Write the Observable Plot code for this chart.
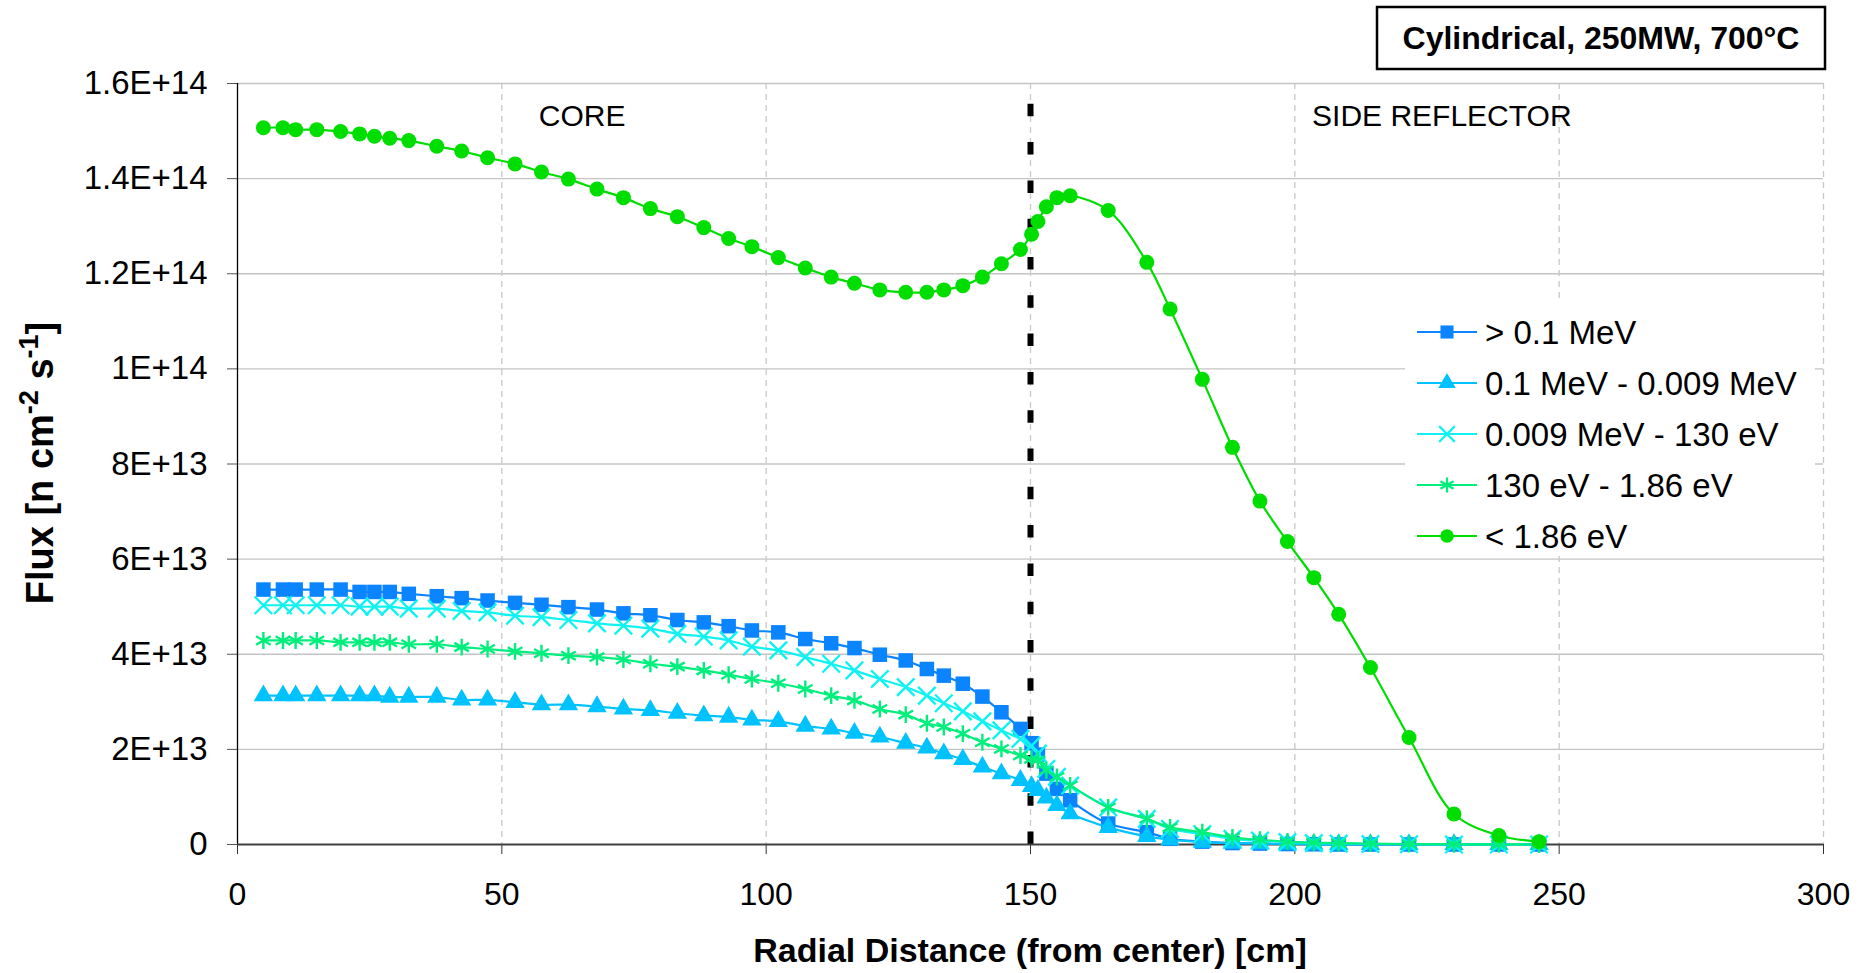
<!DOCTYPE html>
<html>
<head>
<meta charset="utf-8">
<script src="https://cdn.jsdelivr.net/npm/d3@7"></script>
<script src="https://cdn.jsdelivr.net/npm/@observablehq/plot@0.6"></script>
<style>
  html, body { margin: 0; padding: 0; background: #fff; }
  #chart { width: 1874px; height: 973px; }
</style>
</head>
<body>
<div id="chart"></div>
<script>
// ---------- DATA ----------
// radial distance from centre (cm)
const radialDistance = [
  4.9, 8.6, 11.0, 15.0, 19.5, 23.1, 25.9, 28.8, 32.4, 37.7, 42.4, 47.3, 52.5, 57.5, 62.6, 68.0,
  73.0, 78.1, 83.2, 88.2, 92.9, 97.3, 102.3, 107.4, 112.3, 116.7, 121.5, 126.4, 130.4, 133.6,
  137.2, 140.9, 144.5, 148.1, 150.2, 151.4, 153.0, 155.0, 157.5, 164.7, 172.0, 176.4, 182.5,
  188.2, 193.4, 198.6, 203.6, 208.3, 214.3, 221.6, 230.1, 238.6, 246.2
];
// flux values in units of 1E+13 n cm^-2 s^-1
const fluxAbove01MeV = [
  5.36, 5.36, 5.36, 5.36, 5.36, 5.31, 5.31, 5.31, 5.27, 5.22, 5.18, 5.13, 5.08, 5.04, 4.99, 4.94,
  4.86, 4.82, 4.72, 4.67, 4.59, 4.50, 4.46, 4.32, 4.23, 4.13, 3.99, 3.87, 3.69, 3.55,
  3.38, 3.11, 2.78, 2.43, 2.13, 1.89, 1.49, 1.17, 0.93, 0.44, 0.26, 0.12, 0.06,
  0.03, 0.02, 0.01, 0.005, 0, 0, 0, 0, 0, 0
];
const flux01to0009MeV = [
  3.13, 3.13, 3.13, 3.13, 3.13, 3.13, 3.13, 3.10, 3.10, 3.10, 3.04, 3.04, 2.99, 2.94, 2.94, 2.90,
  2.85, 2.82, 2.76, 2.71, 2.68, 2.62, 2.59, 2.49, 2.43, 2.34, 2.26, 2.13, 2.03, 1.91,
  1.79, 1.63, 1.49, 1.35, 1.22, 1.14, 0.98, 0.82, 0.65, 0.36, 0.17, 0.10, 0.05,
  0.03, 0.02, 0.01, 0.005, 0, 0, 0, 0, 0, 0
];
const flux0009MeVto130eV = [
  5.03, 5.03, 5.03, 5.03, 5.03, 5.00, 5.00, 5.00, 4.96, 4.96, 4.91, 4.88, 4.81, 4.78, 4.72, 4.65,
  4.60, 4.54, 4.43, 4.37, 4.29, 4.16, 4.08, 3.94, 3.80, 3.66, 3.48, 3.31, 3.13, 2.97,
  2.80, 2.59, 2.40, 2.22, 2.08, 1.91, 1.59, 1.42, 1.24, 0.78, 0.54, 0.33, 0.22,
  0.12, 0.08, 0.05, 0.03, 0.02, 0.01, 0.005, 0, 0, 0
];
const flux130to186eV = [
  4.29, 4.29, 4.29, 4.29, 4.25, 4.25, 4.25, 4.25, 4.21, 4.21, 4.15, 4.11, 4.06, 4.02, 3.97, 3.94,
  3.89, 3.80, 3.74, 3.66, 3.57, 3.48, 3.39, 3.27, 3.13, 3.03, 2.85, 2.73, 2.55, 2.47,
  2.33, 2.15, 2.01, 1.87, 1.80, 1.77, 1.56, 1.42, 1.24, 0.78, 0.54, 0.36, 0.26,
  0.15, 0.10, 0.06, 0.04, 0.03, 0.02, 0.01, 0.005, 0.002, 0
];
const fluxBelow186eV = [
  15.07, 15.07, 15.03, 15.03, 14.99, 14.94, 14.89, 14.85, 14.80, 14.68, 14.58, 14.44, 14.31, 14.14, 13.99, 13.78,
  13.60, 13.37, 13.20, 12.97, 12.74, 12.57, 12.34, 12.12, 11.93, 11.80, 11.66, 11.61, 11.61, 11.66,
  11.75, 11.93, 12.21, 12.51, 12.83, 13.10, 13.41, 13.60, 13.64, 13.33, 12.24, 11.26, 9.78,
  8.35, 7.22, 6.37, 5.61, 4.84, 3.72, 2.25, 0.64, 0.19, 0.06
];
const fluxUnit = 1e13;

const seriesNames = ["> 0.1 MeV", "0.1 MeV - 0.009 MeV", "0.009 MeV - 130 eV", "130 eV - 1.86 eV", "< 1.86 eV"];
const seriesValues = [fluxAbove01MeV, flux01to0009MeV, flux0009MeVto130eV, flux130to186eV, fluxBelow186eV];
const seriesColors = ["#0a84ff", "#00c2ff", "#10f2f2", "#00ef7c", "#00dd00"];
const seriesSymbols = ["square", "triangle", "times", "asterisk", "circle"];
const seriesRadius = [8.2, 7.2, 8.0, 8.0, 7.5];

const xTicks = [0, 50, 100, 150, 200, 250, 300];
const yTicks = [0, 2e13, 4e13, 6e13, 8e13, 1e14, 1.2e14, 1.4e14, 1.6e14];
const yTickLabels = ["0", "2E+13", "4E+13", "6E+13", "8E+13", "1E+14", "1.2E+14", "1.4E+14", "1.6E+14"];

const coreBoundary = 150;          // cm, core / side reflector boundary
const boundaryTop = 1.558e14;      // top of the dashed boundary line
const regionLabels = [
  {label: "CORE", x: 65.2, y: 1.53e14},
  {label: "SIDE REFLECTOR", x: 227.8, y: 1.53e14}
];
const chartTitle = "Cylindrical, 250MW, 700°C";
const xTitle = "Radial Distance (from center) [cm]";

// ---------- BUILD ----------
const rows = seriesValues.flatMap((vals, s) =>
  vals.map((v, i) => ({series: seriesNames[s], r: radialDistance[i], flux: v * fluxUnit})));
const yLabelOf = new Map(yTicks.map((v, i) => [v, yTickLabels[i]]));
const FONT = "'Liberation Sans', Arial, Helvetica, sans-serif";

const seriesMarks = seriesNames.flatMap((name, s) => {
  const data = rows.filter(d => d.series === name);
  const sym = seriesSymbols[s];
  const filled = sym === "square" || sym === "triangle" || sym === "circle";
  return [
    Plot.line(data, {x: "r", y: "flux", stroke: seriesColors[s], strokeWidth: 2.2, curve: "catmull-rom"}),
    Plot.dot(data, filled
      ? {x: "r", y: "flux", symbol: sym, r: seriesRadius[s], fill: seriesColors[s], stroke: "none"}
      : {x: "r", y: "flux", symbol: sym, r: seriesRadius[s], fill: "none", stroke: seriesColors[s], strokeWidth: 2.4})
  ];
});

const chart = Plot.plot({
  width: 1874,
  height: 973,
  marginLeft: 237,
  marginRight: 51,
  marginTop: 83,
  marginBottom: 129,
  style: {fontFamily: FONT, background: "#fff", color: "#000"},
  x: {domain: [0, 300], label: null},
  y: {domain: [0, 1.6e14], label: null},
  marks: [
    Plot.gridY(yTicks.filter(d => d > 0), {stroke: "#c4c4c4", strokeOpacity: 1, strokeWidth: 1.3}),
    Plot.gridX(xTicks.filter(d => d > 0), {stroke: "#c8c8c8", strokeOpacity: 1, strokeWidth: 1.3, strokeDasharray: "6,5"}),
    Plot.axisY({ticks: yTicks, tickFormat: d => yLabelOf.get(d), tickSize: 10, tickPadding: 20,
      fontSize: 33, label: null, stroke: "#555"}),
    Plot.axisX({ticks: xTicks, tickFormat: d => String(d), tickSize: 10, tickPadding: 28,
      fontSize: 32, label: null, stroke: "#333"}),
    Plot.ruleX([0], {stroke: "#000", strokeWidth: 1.3}),
    Plot.text(regionLabels, {x: "x", y: "y", text: "label", fontSize: 30, fill: "#000"}),
    Plot.ruleX([coreBoundary], {y1: 0, y2: boundaryTop, stroke: "#000", strokeWidth: 6, strokeDasharray: "12.5,25.8"}),
    Plot.ruleY([0], {stroke: "#404040", strokeWidth: 2}),
    ...seriesMarks
  ]
});

document.getElementById("chart").appendChild(chart);

// ---------- OVERLAYS (title box, axis titles, legend) ----------
const svg = d3.select(chart);

// chart title box
const tb = svg.append("g");
tb.append("rect").attr("x", 1377).attr("y", 7).attr("width", 448).attr("height", 62)
  .attr("fill", "#fff").attr("stroke", "#000").attr("stroke-width", 2.5);
tb.append("text").attr("x", 1601).attr("y", 49).attr("text-anchor", "middle")
  .attr("font-family", FONT).attr("font-weight", "bold").attr("font-size", 32).attr("fill", "#000")
  .text(chartTitle);

// x-axis title
svg.append("text").attr("x", 1030).attr("y", 962).attr("text-anchor", "middle")
  .attr("font-family", FONT).attr("font-weight", "bold").attr("font-size", 34).attr("fill", "#000")
  .text(xTitle);

// y-axis title with superscripts
const yt = svg.append("text").attr("transform", "translate(53,463) rotate(-90)")
  .attr("text-anchor", "middle").attr("font-family", FONT).attr("font-weight", "bold")
  .attr("font-size", 38).attr("fill", "#000");
yt.append("tspan").text("Flux [n cm");
yt.append("tspan").attr("baseline-shift", "super").attr("font-size", 27).text("-2");
yt.append("tspan").text(" s");
yt.append("tspan").attr("baseline-shift", "super").attr("font-size", 27).text("-1");
yt.append("tspan").text("]");

// legend
const lg = svg.append("g").attr("text-anchor", "start");
lg.append("rect").attr("x", 1405).attr("y", 300).attr("width", 410).attr("height", 256)
  .attr("fill", "#ffffff").attr("stroke", "none");
const typeMap = {square: d3.symbolSquare, triangle: d3.symbolTriangle, times: d3.symbolTimes,
                 asterisk: d3.symbolAsterisk, circle: d3.symbolCircle};
seriesNames.forEach((name, s) => {
  const cy = 332 + s * 51;
  const g = lg.append("g");
  g.append("line").attr("x1", 1417).attr("x2", 1477).attr("y1", cy).attr("y2", cy)
    .attr("stroke", seriesColors[s]).attr("stroke-width", 2.2);
  const sym = seriesSymbols[s];
  const filled = sym === "square" || sym === "triangle" || sym === "circle";
  const rr = seriesRadius[s] * 0.9;
  g.append("path").attr("transform", `translate(1447,${cy})`)
    .attr("d", d3.symbol(typeMap[sym], Math.PI * rr * rr)())
    .attr("fill", filled ? seriesColors[s] : "none")
    .attr("stroke", filled ? "none" : seriesColors[s]).attr("stroke-width", 2.2);
  g.append("text").attr("x", 1485).attr("y", cy).attr("dy", "0.35em").attr("text-anchor", "start")
    .attr("font-family", FONT).attr("font-size", 33).attr("fill", "#000").text(name);
});
</script>
</body>
</html>
